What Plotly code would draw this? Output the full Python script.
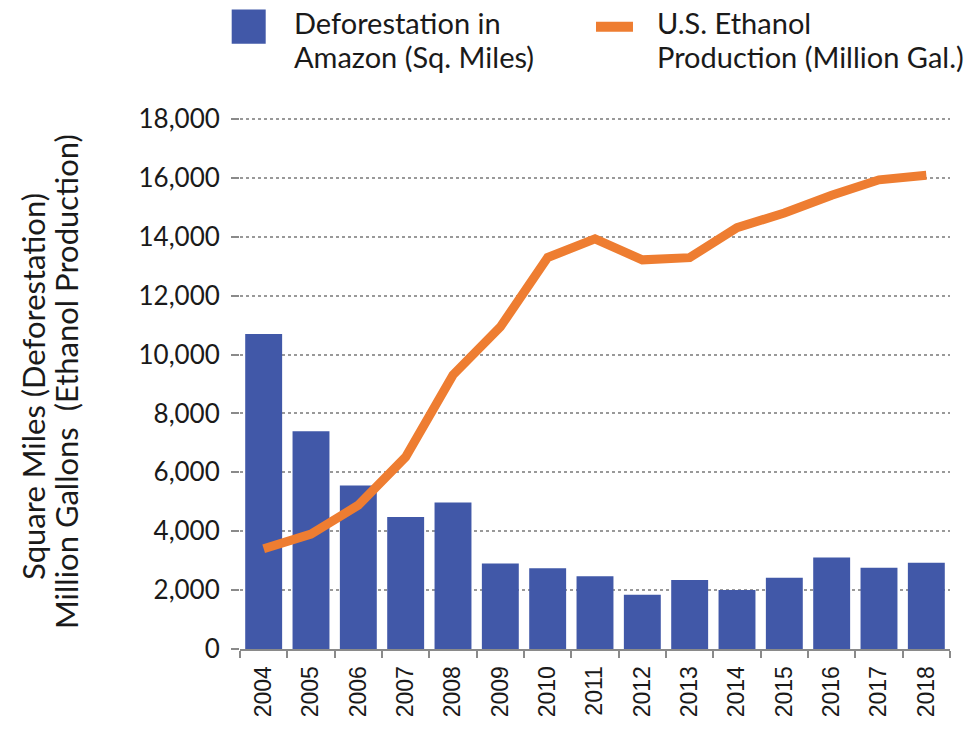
import plotly.graph_objects as go

# Annual figures, 2004-2018
years = ["2004", "2005", "2006", "2007", "2008", "2009", "2010", "2011",
         "2012", "2013", "2014", "2015", "2016", "2017", "2018"]
deforestation_sq_mi = [10700, 7400, 5550, 4480, 4980, 2900, 2740, 2470,
                       1840, 2340, 2000, 2420, 3110, 2760, 2930]
ethanol_million_gal = [3404, 3904, 4884, 6521, 9309, 10938, 13298, 13929,
                       13218, 13293, 14313, 14807, 15413, 15936, 16091]
y_ticks = [0, 2000, 4000, 6000, 8000, 10000, 12000, 14000, 16000, 18000]

BLUE = "#4158A8"
ORANGE = "#EE7D31"
TEXT = "#1a1a1a"

fig = go.Figure()
fig.add_trace(go.Bar(
    x=years, y=deforestation_sq_mi, name="Deforestation in Amazon (Sq. Miles)",
    marker=dict(color=BLUE, line=dict(width=0)), showlegend=False,
))
fig.add_trace(go.Scatter(
    x=years, y=ethanol_million_gal, mode="lines",
    name="U.S. Ethanol Production (Million Gal.)",
    line=dict(color=ORANGE, width=9), showlegend=False,
))

# Legend drawn above the plot area
fig.add_shape(type="rect", xref="paper", yref="paper",
              x0=-0.0117, x1=0.0362, y0=1.1377, y1=1.2019,
              fillcolor=BLUE, line=dict(width=0))
fig.add_shape(type="line", xref="paper", yref="paper",
              x0=0.5014, x1=0.5535, y0=1.1698, y1=1.1698,
              line=dict(color=ORANGE, width=10))
legend_lines = [
    (0.0732, 1.1774, "Deforestation in"),
    (0.0732, 1.1132, "Amazon (Sq. Miles)"),
    (0.5845, 1.1774, "U.S. Ethanol"),
    (0.5845, 1.1132, "Production (Million Gal.)"),
]
for lx, ly, txt in legend_lines:
    fig.add_annotation(xref="paper", yref="paper", x=lx, y=ly,
                       xanchor="left", yanchor="middle", showarrow=False,
                       text=txt, font=dict(family="Lato", size=29, color=TEXT))

# Two-line rotated axis title
for tx, ty, txt in [(-0.2915, 0.4925, "Square Miles (Deforestation)"),
                    (-0.2450, 0.5020, "Million Gallons  (Ethanol Production)")]:
    fig.add_annotation(xref="paper", yref="paper", x=tx, y=ty, textangle=-90,
                       xanchor="center", yanchor="middle", showarrow=False,
                       text=txt, font=dict(family="Lato", size=31, color=TEXT))

fig.update_layout(
    width=980, height=730,
    margin=dict(l=240, r=30, t=117, b=81),
    paper_bgcolor="white", plot_bgcolor="white",
    bargap=0.22,
    font=dict(family="Lato", color=TEXT),
)
fig.update_xaxes(
    type="category", range=[-0.5, 14.5],
    tickangle=-90, tickson="boundaries",
    ticks="outside", ticklen=7, tickcolor="#8a8a8a", tickwidth=2,
    showline=True, linecolor="#8a8a8a", linewidth=2,
    showgrid=False, ticklabelstandoff=6,
    tickfont=dict(family="Liberation Sans", size=23, color=TEXT),
)
fig.update_yaxes(
    range=[0, 18070], tickvals=y_ticks, tickformat=",d",
    ticks="outside", ticklen=8, tickcolor="#8a8a8a", tickwidth=2,
    showline=False, zeroline=False, ticklabelstandoff=6,
    showgrid=True, gridcolor="#999999", gridwidth=2, griddash="dot",
    tickfont=dict(family="Lato", size=26, color=TEXT),
)

fig.write_html("out.html")
